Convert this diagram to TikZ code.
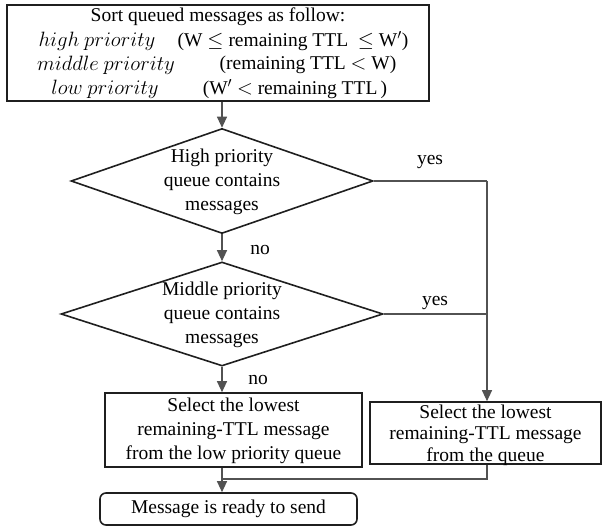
\documentclass[tikz,border=0pt]{standalone}
\usepackage{fontspec}
\setmainfont{Liberation Serif}
\usetikzlibrary{shapes.geometric,arrows.meta}
\begin{document}
\begin{tikzpicture}[x=1pt,y=-1pt,
  txt/.style={font=\fontsize{19.5}{24}\selectfont, align=center, inner sep=0pt},
  shapeline/.style={draw=black!88, line width=1.6pt, inner sep=0pt},
  conn/.style={draw=black!68, line width=1.1pt},
  arr/.style={conn, -{Triangle[length=11pt,width=10pt]}}]
\useasboundingbox (0,0) rectangle (604,526);

% top box
\node[shapeline, minimum width=422pt, minimum height=96pt] (sort) at (218,53) {};
\node[txt] (t1) at (218,17) {Sort queued messages as follow:};
\node[txt] (t2a) at (97,41) {$high\ priority$};
\node[txt] (t2b) at (293,41) {(W $\le$ remaining TTL\ \ $\le$ W$'$)};
\node[txt] (t3a) at (106,65) {$middle\ priority$};
\node[txt] (t3b) at (308,65) {(remaining TTL $<$\ W)};
\node[txt] (t4a) at (105,89) {$low\ priority$};
\node[txt] (t4b) at (295,89) {(W$'$ $<$ remaining TTL\,)};

% diamonds
\node[shapeline, diamond, minimum width=302pt, minimum height=105pt] (d1) at (222,181) {};
\node[txt] (d1t) at (222,182) {High priority\\queue contains\\messages};
\node[shapeline, diamond, minimum width=322pt, minimum height=104pt] (d2) at (222,314) {};
\node[txt] (d2t) at (222,315) {Middle priority\\queue contains\\messages};

% boxes
\node[shapeline, minimum width=257pt, minimum height=74pt] (lbox) at (233.5,430) {};
\node[txt] (lboxt) at (233.5,431) {Select the lowest\\remaining-TTL message\\from the low priority queue};
\node[shapeline, minimum width=231pt, minimum height=62pt] (rbox) at (485.5,433) {};
\node[txt, font=\fontsize{19.5}{21.5}\selectfont] (rboxt) at (485.5,435) {Select the lowest\\remaining-TTL message\\from the queue};
\node[shapeline, rounded corners=6pt, minimum width=257pt, minimum height=32pt] (bbox) at (228.5,509) {};
\node[txt] (bboxt) at (228.5,509) {Message is ready to send};

% connectors
\coordinate (rx) at (487,181);
\coordinate (m) at (222,479);
\draw[arr] (d1.north |- sort.south) -- (d1.north);
\draw[arr] (d1.south) -- (d2.north);
\draw[arr] (d2.south) -- (d2.south |- lbox.north);
\draw[conn] (d1.east) -- (rx);
\draw[arr] (rx) -- (rx |- rbox.north);
\draw[conn] (d2.east) -- (d2.east -| rx);
\draw[conn] (rx |- rbox.south) -- (rx |- m) -- (m);
\draw[arr] (d2.south |- lbox.south) -- (d2.south |- bbox.north);

% labels
\node[txt] (yes1) at (430,162) {yes};
\node[txt] (yes2) at (435,303) {yes};
\node[txt] (no1) at (260,250) {no};
\node[txt] (no2) at (258,380) {no};
\end{tikzpicture}
\end{document}
